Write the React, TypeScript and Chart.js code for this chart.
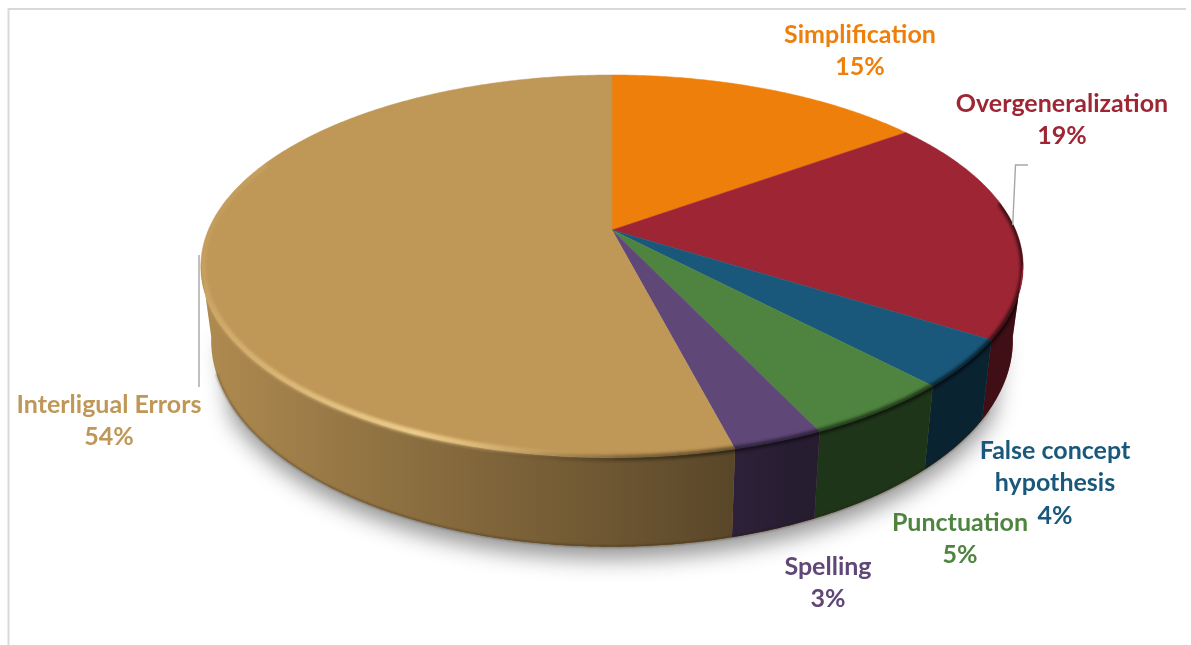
import { useEffect, useRef } from "react";
import { Chart, registerables } from "chart.js";

Chart.register(...registerables);

const categories = ["Simplification", "Overgeneralization", "False concept hypothesis", "Punctuation", "Spelling", "Interligual Errors"];
const shares = [15, 19, 4, 5, 3, 54];
const sliceColors = ["#EE7F0A", "#9E2634", "#19587B", "#4E843F", "#5F4778", "#BF9757"];

// Label text is wrapped by hand; anchors are the centre of each text block's first line.
const labelLines = [["Simplification"], ["Overgeneralization"], ["False concept", "hypothesis"], ["Punctuation"], ["Spelling"], ["Interligual Errors"]];
const labelAnchors = [[860, 35], [1062, 104], [1055, 451], [960, 523], [828, 567], [109, 405]];

const DEG = Math.PI / 180;
const PERSPECTIVE = 0.19;
// The wall is visible only between the two points where the rim turns back on itself.
const WALL_FROM = 100 * DEG;
const WALL_TO = 260 * DEG;

type Plane = { cx: number; cy: number; a: number; b: number };

function planesFor(el: any): { top: Plane; bottom: Plane } {
  const R = el.outerRadius;
  const a = R * 1.755;
  return {
    top: { cx: el.x, cy: el.y, a, b: R * 0.802 },
    bottom: { cx: el.x, cy: el.y + R * 0.309, a: a * 0.975, b: R * 0.865 },
  };
}

// Perspective projection of a point on the disc rim; theta runs clockwise from twelve o'clock.
function project(p: Plane, theta: number): [number, number] {
  const w = 1 + PERSPECTIVE * Math.cos(theta);
  return [p.cx + (p.a * Math.sin(theta)) / w, p.cy - (p.b * Math.cos(theta)) / w];
}

function rim(p: Plane, from: number, to: number): [number, number][] {
  const n = Math.max(2, Math.ceil(Math.abs(to - from) / (0.5 * DEG)));
  const pts: [number, number][] = [];
  for (let i = 0; i <= n; i++) pts.push(project(p, from + ((to - from) * i) / n));
  return pts;
}

function trace(ctx: CanvasRenderingContext2D, pts: [number, number][], move = true) {
  pts.forEach(([x, y], i) => (i === 0 && move ? ctx.moveTo(x, y) : ctx.lineTo(x, y)));
}

function gradient(ctx: CanvasRenderingContext2D, x0: number, y0: number, x1: number, y1: number, rgb: string, stops: [number, number][]) {
  const g = ctx.createLinearGradient(x0, y0, x1, y1);
  stops.forEach(([at, alpha]) => g.addColorStop(at, `rgba(${rgb},${alpha})`));
  return g;
}

const pie3d = {
  id: "pie3d",
  // The doughnut controller supplies the angles; the tilted disc is painted here instead of flat arcs.
  beforeDatasetsDraw(chart: any) {
    const ctx: CanvasRenderingContext2D = chart.ctx;
    const arcs = chart.getDatasetMeta(0).data;
    const { top, bottom } = planesFor(arcs[0]);
    const left = top.cx - 411;
    const right = top.cx + 411;
    const slices = arcs.map((el: any) => ({
      from: el.startAngle + Math.PI / 2,
      to: el.endAngle + Math.PI / 2,
      color: el.options.backgroundColor,
    }));

    // Soft ground shadow under the base, falling away below the rim line
    ctx.save();
    ctx.shadowColor = "rgba(0,0,0,0.42)";
    ctx.shadowBlur = 22;
    ctx.shadowOffsetY = 12;
    ctx.fillStyle = "#6b5430";
    ctx.beginPath();
    trace(ctx, rim(bottom, 118 * DEG, 242 * DEG));
    trace(ctx, rim(top, 242 * DEG, 118 * DEG), false);
    ctx.closePath();
    ctx.fill();
    ctx.restore();

    // Side wall of each slice, darkening from left to right
    const wallShade = gradient(ctx, left, 0, right, 0, "0,0,0", [
      [0, 0.08], [0.18, 0.22], [0.365, 0.34], [0.644, 0.53], [0.73, 0.6], [1, 0.6],
    ]);
    for (const s of slices) {
      const from = Math.max(s.from, WALL_FROM);
      const to = Math.min(s.to, WALL_TO);
      if (to <= from) continue;
      const wall = () => {
        ctx.beginPath();
        trace(ctx, rim(top, from, to));
        trace(ctx, rim(bottom, to, from), false);
        ctx.closePath();
      };
      ctx.fillStyle = s.color;
      wall();
      ctx.fill();
      ctx.fillStyle = wallShade;
      wall();
      ctx.fill();
    }

    // Thin dark line along the bottom edge of the wall
    ctx.save();
    ctx.filter = "blur(1px)";
    ctx.strokeStyle = "rgba(40,25,5,0.45)";
    ctx.lineWidth = 1.6;
    ctx.beginPath();
    trace(ctx, rim(bottom, 120 * DEG, 250 * DEG));
    ctx.stroke();
    ctx.restore();

    // Top face
    for (const s of slices) {
      ctx.fillStyle = s.color;
      ctx.strokeStyle = s.color;
      ctx.lineWidth = 0.5;
      ctx.beginPath();
      ctx.moveTo(top.cx, top.cy);
      trace(ctx, rim(top, s.from, s.to), false);
      ctx.closePath();
      ctx.fill();
      ctx.stroke();
    }

    // Bevel along the rim, kept inside the outline of the solid
    ctx.save();
    ctx.beginPath();
    trace(ctx, rim(top, WALL_TO, WALL_FROM + Math.PI * 2));
    trace(ctx, rim(bottom, WALL_FROM, WALL_TO), false);
    ctx.closePath();
    ctx.clip();
    ctx.filter = "blur(1.6px)";
    ctx.lineCap = "round";
    ctx.lineWidth = 6;
    ctx.strokeStyle = gradient(ctx, left, 0, right, 0, "0,0,0", [
      [0, 0], [0.34, 0], [0.51, 0.32], [0.64, 0.46], [1, 0.6],
    ]);
    ctx.beginPath();
    trace(ctx, rim(top, 82 * DEG, 215 * DEG));
    ctx.stroke();

    ctx.lineWidth = 6;
    ctx.strokeStyle = gradient(ctx, left, top.cy - 40, top.cx + 30, top.cy + 230, "255,226,160", [
      [0, 0], [0.2, 0.3], [0.6, 0.72], [0.85, 0.14], [1, 0],
    ]);
    const inner: Plane = { ...top, a: top.a * 0.995, b: top.b * 0.992 };
    ctx.beginPath();
    trace(ctx, rim(inner, 180 * DEG, 292 * DEG));
    ctx.stroke();
    ctx.restore();

    return false;
  },
  afterDraw(chart: any) {
    const ctx: CanvasRenderingContext2D = chart.ctx;

    // Frame of the chart area: top and left edges only
    ctx.save();
    ctx.strokeStyle = "#D9D9D9";
    ctx.lineWidth = 2;
    ctx.beginPath();
    ctx.moveTo(8.5, 645);
    ctx.lineTo(8.5, 9);
    ctx.lineTo(1186, 9);
    ctx.stroke();

    // Leader lines
    ctx.strokeStyle = "#A6A6A6";
    ctx.lineWidth = 1.4;
    ctx.beginPath();
    ctx.moveTo(1012.7, 225);
    ctx.lineTo(1015.5, 165);
    ctx.lineTo(1028, 165);
    ctx.moveTo(199, 255);
    ctx.lineTo(199, 387);
    ctx.stroke();

    // Category and percentage labels
    ctx.font = 'bold 25px Lato, "Open Sans", sans-serif';
    ctx.textAlign = "center";
    ctx.textBaseline = "middle";
    categories.forEach((_, i) => {
      const [x, y] = labelAnchors[i];
      ctx.fillStyle = sliceColors[i];
      const lines = [...labelLines[i], `${shares[i]}%`];
      lines.forEach((line, j) => ctx.fillText(line, x, y + j * 32.4));
    });
    ctx.restore();
  },
};

export default function App() {
  const ref = useRef<HTMLCanvasElement>(null);
  useEffect(() => {
    const chart = new Chart(ref.current!, {
      type: "pie",
      data: {
        labels: categories,
        datasets: [{ data: shares, backgroundColor: sliceColors, borderWidth: 0 }],
      },
      options: {
        responsive: false,
        animation: false,
        layout: { padding: { left: 33, right: 0, top: 0, bottom: 185 } },
        plugins: { legend: { display: false }, tooltip: { enabled: false } },
      },
      plugins: [pie3d],
    } as any);
    return () => chart.destroy();
  }, []);
  return <canvas ref={ref} width={1191} height={645} style={{ position: "absolute", left: 0, top: 0, display: "block" }} />;
}
